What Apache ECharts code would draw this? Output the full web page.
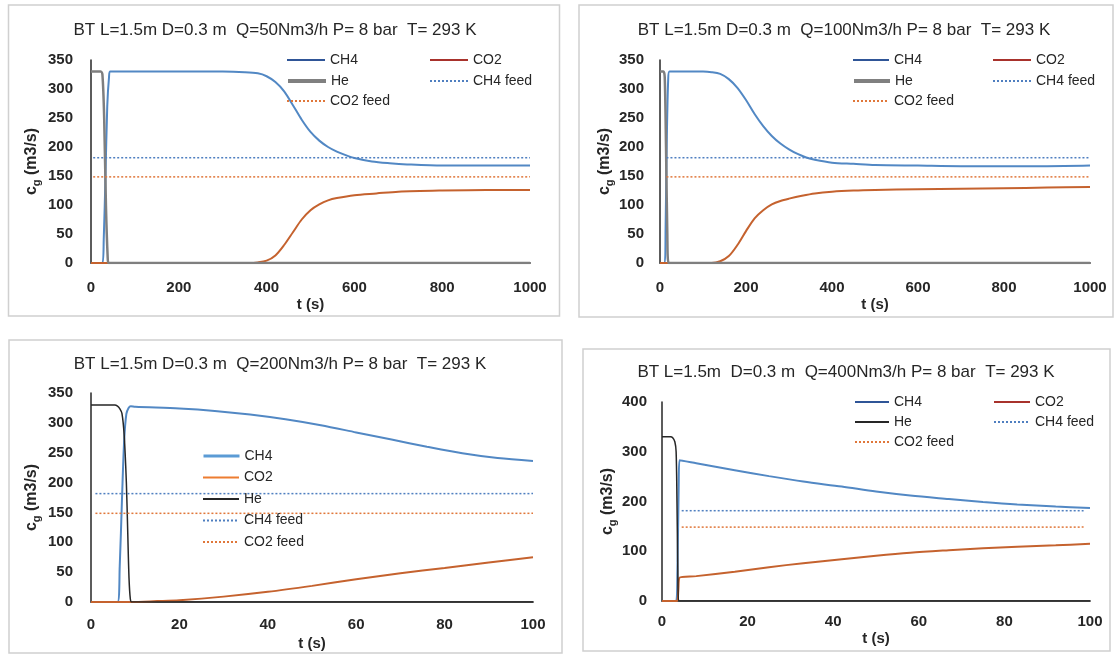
<!DOCTYPE html>
<html><head><meta charset="utf-8">
<script src="https://cdn.jsdelivr.net/npm/echarts@6/dist/echarts.min.js"></script>
<style>html,body{margin:0;padding:0;background:#fff}#c{width:1114px;height:655px}</style>
</head><body><div id="c"></div>
<script>
// ---------------- data ----------------
const titles = [
  'BT L=1.5m D=0.3 m  Q=50Nm3/h P= 8 bar  T= 293 K',
  'BT L=1.5m D=0.3 m  Q=100Nm3/h P= 8 bar  T= 293 K',
  'BT L=1.5m D=0.3 m  Q=200Nm3/h P= 8 bar  T= 293 K',
  'BT L=1.5m  D=0.3 m  Q=400Nm3/h P= 8 bar  T= 293 K'
];
const xMax = [1000, 1000, 100, 100];
const xInterval = [200, 200, 20, 20];
const yMax = [350, 350, 350, 400];
const yInterval = [50, 50, 50, 100];
const feedCH4 = 181.5;
const feedCO2 = 148.5;

// Panel 1 (Q=50)
const p1FeedT = [5, 1000];
const p1HeT = [0, 22, 26, 30, 34, 38, 40, 1000];
const p1He  = [330, 330, 325, 250, 100, 10, 0, 0];
const p1CH4T = [0, 26, 29, 33, 37, 41, 44, 100, 200, 300, 350, 380, 400, 420, 440, 460, 480, 500, 520, 540, 560, 580, 600, 640, 680, 720, 800, 900, 1000];
const p1CH4  = [0, 0, 40, 150, 270, 320, 330, 330, 330, 330, 329, 327, 322, 312, 296, 272, 247, 226, 211, 200, 192, 186, 181, 175, 172, 170, 168, 168, 168];
const p1CO2T = [0, 360, 380, 400, 420, 440, 460, 480, 500, 520, 540, 560, 600, 650, 700, 800, 900, 1000];
const p1CO2  = [0, 0, 1, 4, 13, 31, 53, 75, 91, 101, 108, 112, 117, 120, 123, 125, 126, 126];

// Panel 2 (Q=100)
const p2FeedT = [15, 1000];
const p2HeT = [0, 8, 11, 14, 17, 20, 1000];
const p2He  = [330, 330, 320, 200, 50, 0, 0];
const p2CH4T = [0, 11, 13, 16, 19, 22, 50, 100, 120, 140, 160, 180, 200, 220, 240, 260, 280, 300, 320, 340, 360, 400, 450, 500, 600, 700, 800, 900, 1000];
const p2CH4  = [0, 0, 60, 220, 315, 330, 330, 330, 329, 326, 317, 302, 281, 257, 236, 219, 206, 196, 188, 182, 178, 173, 171, 169, 168, 167, 167, 167, 168];
const p2CO2T = [0, 120, 140, 160, 180, 200, 220, 240, 260, 280, 300, 330, 360, 400, 450, 500, 600, 700, 800, 900, 1000];
const p2CO2  = [0, 0, 3, 12, 31, 55, 77, 91, 101, 107, 111, 116, 120, 123, 125, 126, 127, 128, 129, 130, 131];

// Panel 3 (Q=200)
const p3FeedT = [1, 100];
const p3HeT = [0, 5.4, 6, 6.5, 7, 7.5, 8, 8.3, 8.6, 8.9, 9.2, 100];
const p3He  = [330, 330, 328, 324, 316, 280, 200, 120, 40, 5, 0, 0];
const p3CH4T = [0, 6, 6.5, 7, 7.5, 8, 8.5, 9, 10, 20, 28, 36, 44, 52, 60, 68, 76, 84, 92, 100];
const p3CH4  = [0, 0, 60, 170, 270, 315, 325, 328, 327, 324, 320, 314, 306, 296, 284, 272, 260, 249, 241, 236];
const p3CO2T = [0, 9, 15, 20, 30, 40, 50, 60, 70, 80, 90, 100];
const p3CO2  = [0, 0, 1.5, 3, 9, 17, 27, 38, 48, 57, 66, 75];

// Panel 4 (Q=400)
const p4FeedT = [4.6, 98.5];
const p4HeT = [0, 2, 2.5, 3, 3.3, 3.5, 3.7, 3.9, 100];
const p4He  = [330, 330, 328, 320, 300, 200, 60, 0, 0];
const p4CH4T = [0, 3.3, 3.6, 3.9, 4.1, 8, 17, 25, 33, 42, 50, 58, 67, 75, 83, 92, 100];
const p4CH4  = [0, 0, 60, 230, 283, 277, 263, 251, 240, 230, 220, 212, 205, 199, 194, 190, 187];
const p4CO2T = [0, 3.5, 3.8, 4.1, 8, 17, 25, 33, 42, 50, 58, 67, 75, 83, 92, 100];
const p4CO2  = [0, 0, 20, 47, 50, 59, 68, 76, 84, 91, 97, 102, 106, 109, 112, 115];

// ---------------- layout / style ----------------
const FONT = '"Liberation Sans", Arial, sans-serif';
const TXT = '#262626';
const grids = [
  {left: 91, top: 60, width: 439, height: 203},
  {left: 660, top: 60, width: 430, height: 203},
  {left: 91, top: 393, width: 442, height: 209},
  {left: 662, top: 402, width: 428, height: 199}
];
const borders = [
  [8.5, 5, 551, 311], [579, 5, 534, 312], [9, 340, 553, 313], [583, 349, 527, 302]
];
const titlePos = [[275, 30], [844, 30], [280, 364], [846, 372]];
const yNameGap = [49, 45, 49, 41];
const xNameGap = [34, 34, 34, 30];
const yLabelMargin = [18, 16, 18, 15];
const xLabelMargin = [17, 17, 15, 13];

const panels = [
  {feedT: p1FeedT, heT: p1HeT, he: p1He, ch4T: p1CH4T, ch4: p1CH4, co2T: p1CO2T, co2: p1CO2},
  {feedT: p2FeedT, heT: p2HeT, he: p2He, ch4T: p2CH4T, ch4: p2CH4, co2T: p2CO2T, co2: p2CO2},
  {feedT: p3FeedT, heT: p3HeT, he: p3He, ch4T: p3CH4T, ch4: p3CH4, co2T: p3CO2T, co2: p3CO2},
  {feedT: p4FeedT, heT: p4HeT, he: p4He, ch4T: p4CH4T, ch4: p4CH4, co2T: p4CO2T, co2: p4CO2}
];

const heStyle = [
  {color: '#7f7f7f', width: 2.5}, {color: '#7f7f7f', width: 2.5},
  {color: '#262626', width: 1.5}, {color: '#262626', width: 1.5}
];
const CH4C = '#5288c4', CO2C = '#c5622e';
const FEED_CH4C = '#4f7fc0', FEED_CO2C = '#e0773a';

// legend item placements: [label, left, centerY, itemWidth, legendLineStyle]
const legendItems = [
  [['CH4', 286, 60, 38, {color: '#2f5597', width: 2}], ['CO2', 429, 60, 38, {color: '#a8322c', width: 2}],
   ['He', 286, 81, 38, {color: '#808080', width: 4}], ['CH4 feed', 429, 81, 38, null], ['CO2 feed', 286, 101, 38, null]],
  [['CH4', 852, 60, 36, {color: '#2f5597', width: 2}], ['CO2', 992, 60, 38, {color: '#a8322c', width: 2}],
   ['He', 852, 81, 36, {color: '#808080', width: 4}], ['CH4 feed', 992, 81, 38, null], ['CO2 feed', 852, 101, 36, null]],
  [['CH4', 202, 456, 36, {color: '#5b9bd5', width: 3}], ['CO2', 202, 477.5, 36, {color: '#ed7d31', width: 2}],
   ['He', 202, 499, 36, {color: '#262626', width: 2}], ['CH4 feed', 202, 520.5, 36, null], ['CO2 feed', 202, 542, 36, null]],
  [['CH4', 854, 402, 34, {color: '#2f5597', width: 2}], ['CO2', 993, 402, 36, {color: '#a8322c', width: 2}],
   ['He', 854, 422, 34, {color: '#262626', width: 2}], ['CH4 feed', 993, 422, 36, null], ['CO2 feed', 854, 442, 34, null]]
];

const zip = (t, v) => t.map((x, i) => [x, v[i]]);

const option = {
  animation: false,
  backgroundColor: '#fff',
  textStyle: {fontFamily: FONT},
  grid: grids.map(g => Object.assign({containLabel: false}, g)),
  xAxis: grids.map((g, i) => ({
    type: 'value', gridIndex: i, min: 0, max: xMax[i], interval: xInterval[i],
    name: 't (s)', nameLocation: 'middle', nameGap: xNameGap[i],
    nameTextStyle: {fontSize: 15, fontWeight: 'bold', color: TXT, fontFamily: FONT},
    axisLine: {show: true, onZero: false, lineStyle: {color: '#595959', width: 2}},
    axisTick: {show: false}, splitLine: {show: false},
    axisLabel: {fontSize: 15, fontWeight: 'bold', color: TXT, fontFamily: FONT, margin: xLabelMargin[i],
      formatter: v => String(v)}
  })),
  yAxis: grids.map((g, i) => ({
    type: 'value', gridIndex: i, min: 0, max: yMax[i], interval: yInterval[i],
    name: '{a|c}{b|g}{a| (m3/s)}', nameLocation: 'middle', nameGap: yNameGap[i],
    nameTextStyle: {
      color: TXT,
      rich: {
        a: {fontSize: 16, fontWeight: 'bold', color: TXT, fontFamily: FONT, lineHeight: 20, verticalAlign: 'middle'},
        b: {fontSize: 11, fontWeight: 'bold', color: TXT, fontFamily: FONT, lineHeight: 20, verticalAlign: 'bottom'}
      }
    },
    axisLine: {show: true, lineStyle: {color: '#262626', width: 1.5}},
    axisTick: {show: false}, splitLine: {show: false},
    axisLabel: {fontSize: 15, fontWeight: 'bold', color: TXT, fontFamily: FONT, margin: yLabelMargin[i],
      formatter: v => String(v)}
  })),
  legend: [],
  series: [],
  graphic: []
};

panels.forEach((p, i) => {
  const base = {type: 'line', xAxisIndex: i, yAxisIndex: i, symbol: 'none', showSymbol: false,
    smooth: 0.3};
  option.series.push(Object.assign({}, base, {name: 'CH4#' + i, data: zip(p.ch4T, p.ch4),
    lineStyle: {color: CH4C, width: 2}, itemStyle: {color: CH4C}}));
  option.series.push(Object.assign({}, base, {name: 'CO2#' + i, data: zip(p.co2T, p.co2),
    lineStyle: {color: CO2C, width: 2}, itemStyle: {color: CO2C}}));
  option.series.push(Object.assign({}, base, {name: 'He#' + i, data: zip(p.heT, p.he),
    lineStyle: heStyle[i], itemStyle: {color: heStyle[i].color}}));
  option.series.push(Object.assign({}, base, {name: 'CH4 feed#' + i, smooth: false,
    data: zip(p.feedT, p.feedT.map(() => feedCH4)),
    lineStyle: {color: FEED_CH4C, width: 1.5, type: [2, 2]}, itemStyle: {color: FEED_CH4C}}));
  option.series.push(Object.assign({}, base, {name: 'CO2 feed#' + i, smooth: false,
    data: zip(p.feedT, p.feedT.map(() => feedCO2)),
    lineStyle: {color: FEED_CO2C, width: 1.5, type: [2, 2]}, itemStyle: {color: FEED_CO2C}}));

  legendItems[i].forEach(it => {
    const d = {name: it[0] + '#' + i, itemStyle: {opacity: 0}};
    if (it[4]) d.lineStyle = it[4];
    option.legend.push({
      data: [d], left: it[1], top: it[2] - 8, padding: 0, orient: 'horizontal',
      itemWidth: it[3], itemHeight: 16, selectedMode: false,
      itemStyle: {opacity: 0},
      formatter: n => n.split('#')[0],
      textStyle: {fontSize: 14, color: TXT, fontFamily: FONT, lineHeight: 16}
    });
  });

  const b = borders[i];
  option.graphic.push({type: 'rect', z: 0, silent: true,
    shape: {x: b[0], y: b[1], width: b[2], height: b[3]},
    style: {fill: 'none', stroke: '#d0d0d0', lineWidth: 1.5}});
  option.graphic.push({type: 'text', z: 5, silent: true, x: titlePos[i][0], y: titlePos[i][1],
    style: {text: titles[i], fill: TXT, font: '17px ' + FONT, textAlign: 'center', textVerticalAlign: 'middle'}});
});
// white legend box of panel 3 (hides the feed lines behind it, as in the original)
option.graphic.push({type: 'rect', z: 3, silent: true,
  shape: {x: 154, y: 444, width: 192, height: 110}, style: {fill: '#fff', stroke: 'none'}});

const chart = echarts.init(document.getElementById('c'), null, {renderer: 'canvas'});
chart.setOption(option);
</script>
</body></html>
